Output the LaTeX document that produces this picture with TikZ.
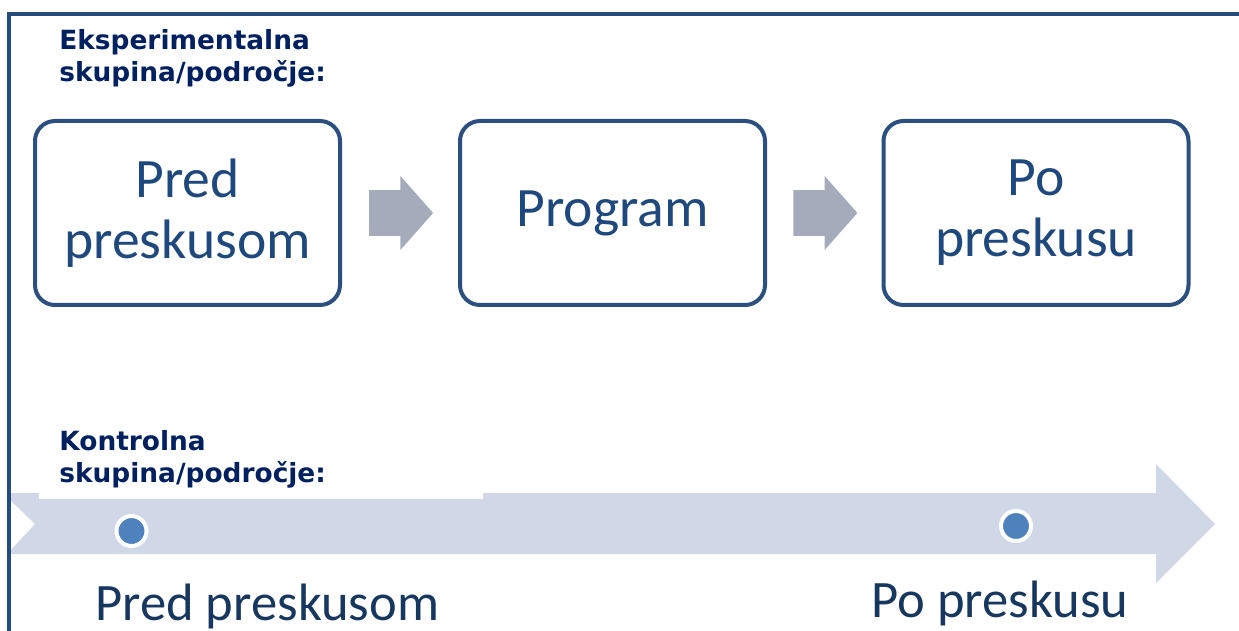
\documentclass[tikz,border=0pt]{standalone}
\usepackage{fontspec}
\usetikzlibrary{shapes.arrows,calc}
\newfontfamily\calfont{Carlito}
\newfontfamily\verdfont{DejaVu Sans}
\definecolor{frameblue}{HTML}{254B7C}
\definecolor{stageblue}{HTML}{2B4F7F}
\definecolor{stagetext}{HTML}{1F497D}
\definecolor{timetext}{HTML}{17375E}
\definecolor{labelnavy}{HTML}{002060}
\definecolor{arrowgray}{HTML}{A5ABBA}
\definecolor{lineblue}{HTML}{D0D8E8}
\definecolor{pointblue}{HTML}{4F81BD}

\begin{document}
\begin{tikzpicture}[x=0.5pt,y=-0.5pt]
    \tikzstyle{stage}=[draw=stageblue, line width=2pt, rounded corners=10pt, minimum width=152.5pt, minimum height=92pt, inner sep=0pt, align=center, text=stagetext, font=\calfont\fontsize{27.8}{30.5}\selectfont]
    \tikzstyle{stagearrow}=[single arrow, fill=arrowgray, draw=none, inner xsep=0pt, inner ysep=11.25pt, minimum height=32pt, single arrow head extend=7pt, single arrow tip angle=97, xshift=-4.5pt]
    \tikzstyle{grouplabel}=[fill=white, anchor=south west, inner xsep=10pt, inner ysep=5pt, text width=202pt, align=left, text=labelnavy, font=\verdfont\bfseries\fontsize{13.2}{16}\selectfont]
    \tikzstyle{timeline}=[fill=lineblue]
    \tikzstyle{point}=[circle, fill=pointblue, draw=white, line width=2pt, minimum size=15pt, inner sep=0pt]
    \tikzstyle{timelabel}=[anchor=base west, inner sep=0pt, text=timetext, font=\calfont\fontsize{26.3}{30}\selectfont]
    \tikzstyle{frame}=[draw=frameblue, line width=1.75pt]

    \useasboundingbox (0,0) rectangle (1239,631);
    \clip (0,0) rectangle (1239,631);

    % experimental group
    \node[grouplabel] (explabel) at (39,98) {Eksperimentalna\\skupina/področje:};
    \node[stage] (pre) at (187.5,213) {Pred\\preskusom};
    \node[stage] (prog) at (612.5,213) {Program};
    \node[stage] (post) at (1036,213) {Po\\preskusu};

    \node[stagearrow] (a1) at ($(pre.east)!0.5!(prog.west)$) {};
    \node[stagearrow] (a2) at ($(prog.east)!0.5!(post.west)$) {};

    % control group
    \fill[timeline] (9,493) -- (1156,493) -- (1156,464) -- (1215,524) -- (1156,583)
        -- (1156,554) -- (9,554) -- (9,552) -- (35,524) -- (9,499) -- cycle;
    \node[grouplabel] (ctrllabel) at (39,499) {Kontrolna\\skupina/področje:};
    \node[point] (t1) at (131.5,531) {};
    \node[point] (t2) at (1016,526) {};
    \node[timelabel] (prelabel) at (95,620) {Pred preskusom};
    \node[timelabel] (postlabel) at (871,617) {Po preskusu};

    \draw[frame] (9,640) -- (9,14) -- (1245,14);
\end{tikzpicture}
\end{document}
